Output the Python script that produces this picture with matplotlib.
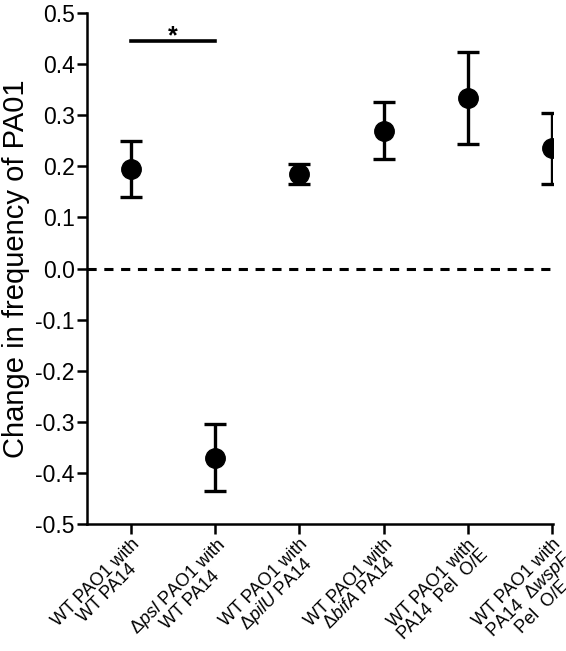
import matplotlib
matplotlib.use("Agg")
import matplotlib.pyplot as plt

plt.rcParams['font.family'] = ['Liberation Sans', 'DejaVu Sans']
plt.rcParams['mathtext.fontset'] = 'custom'
plt.rcParams['mathtext.rm'] = 'Liberation Sans'
plt.rcParams['mathtext.it'] = 'Liberation Sans:italic'

#data
groups = [
    "WT PAO1 with\nWT PA14",
    "$\\Delta\\it{psl}$ PAO1 with\nWT PA14",
    "WT PAO1 with\n$\\Delta\\it{pilU}$ PA14",
    "WT PAO1 with\n$\\Delta\\it{bifA}$ PA14",
    "WT PAO1 with\nPA14  Pel  O/E",
    "WT PAO1 with\nPA14  $\\Delta\\it{wspF}$\nPel  O/E",
]
means = [0.195, -0.370, 0.185, 0.270, 0.333, 0.235]
errors = [0.055, 0.065, 0.020, 0.056, 0.090, 0.070]
sig_pair = (0, 1)
sig_height = 0.445

fig = plt.figure(figsize=(5.66, 6.51), dpi=100)
ax = fig.add_axes([0.154, 0.195, 0.823, 0.785])

x = list(range(len(groups)))
ax.errorbar(x, means, yerr=errors, fmt='o', color='black', markersize=14,
            elinewidth=2.4, capsize=8, capthick=2.4, zorder=3)

#zero line
ax.axhline(0, color='black', linestyle=(0, (3, 2.5)), linewidth=2.2, zorder=1)

#significance bar
ax.plot(sig_pair, [sig_height, sig_height], color='black', linewidth=2.6)
ax.text(sum(sig_pair) / 2, sig_height - 0.015, "*", ha='center', va='bottom',
        fontsize=18, fontweight='bold')

ax.set_xlim(-0.52, 5.01)
ax.set_ylim(-0.5, 0.5)
ax.set_yticks([i / 10 for i in range(-5, 6)])
ax.set_yticklabels([f"{i / 10:.1f}" for i in range(-5, 6)], fontsize=16.5)
ax.set_xticks(x)
ax.set_xticklabels(groups, rotation=45, ha='right', rotation_mode='anchor',
                   multialignment='center', fontsize=13, linespacing=0.92)

ax.spines['top'].set_visible(False)
ax.spines['right'].set_visible(False)
ax.spines['left'].set_linewidth(1.8)
ax.spines['bottom'].set_linewidth(1.8)
ax.tick_params(axis='both', width=1.8, length=7, direction='out')
ax.tick_params(axis='y', pad=2)
ax.tick_params(axis='x', pad=1)

ax.set_ylabel("Change in frequency of PA01", fontsize=21, labelpad=4)

fig.savefig("out.png", dpi=100)
